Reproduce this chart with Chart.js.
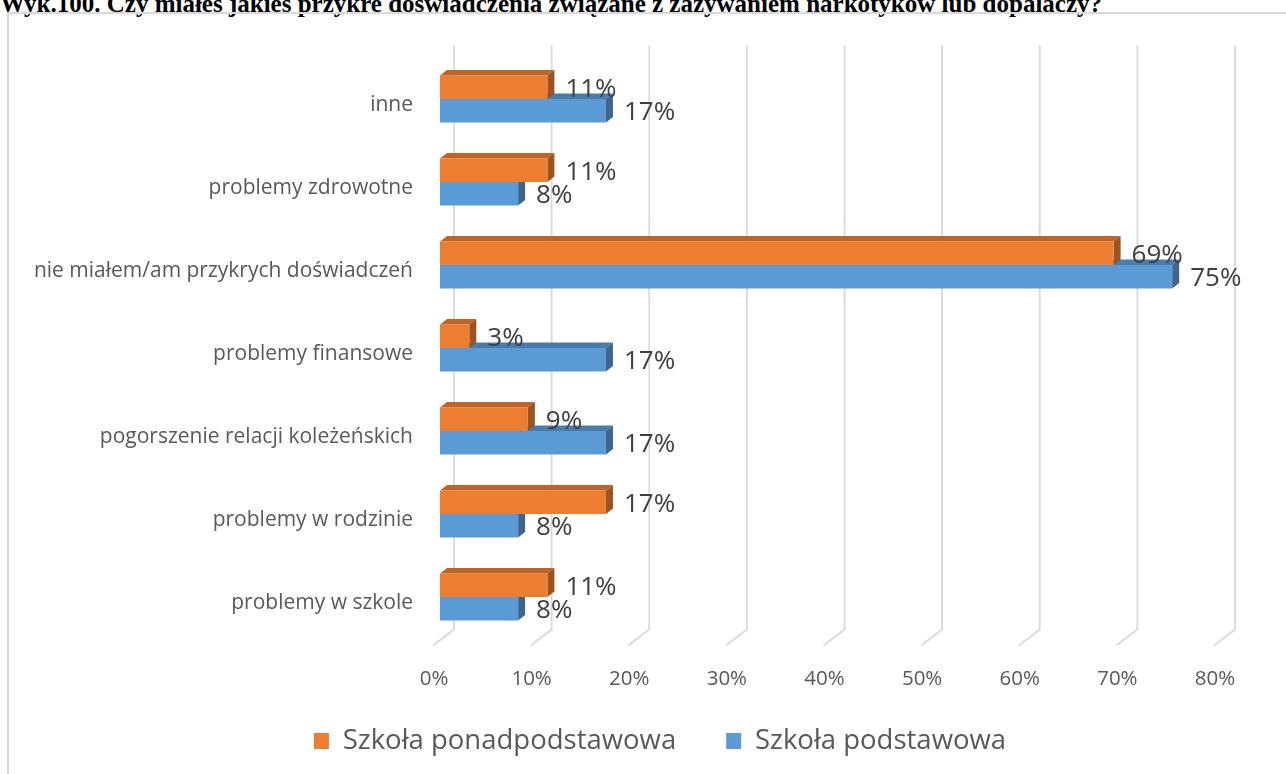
<!DOCTYPE html>
<html>
<head>
<meta charset="utf-8">
<script src="https://cdn.jsdelivr.net/npm/chart.js@4.4.0/dist/chart.umd.min.js"></script>
<style>
  html, body { margin: 0; padding: 0; background: #fff; overflow: hidden; }
  #title {
    position: absolute; left: 0; top: -10px; line-height: 24px;
    font: bold 25px "Liberation Serif", "Times New Roman", serif;
    white-space: nowrap; color: #000;
  }
  #frame {
    position: absolute; left: 7px; top: 12px; width: 1320px; height: 820px;
    border: 2px solid #d9d9d9; box-sizing: border-box;
  }
  #wrap { position: absolute; left: 0; top: 0; width: 1286px; height: 774px; }
</style>
</head>
<body>
<div id="title">Wyk.100. Czy miałeś jakieś przykre doświadczenia związane z zażywaniem narkotyków lub dopalaczy?</div>
<div id="frame"></div>
<div id="wrap"><canvas id="chart" width="1286" height="774"></canvas></div>
<script>
// dane z wykresu
const categories = [
    "inne",
    "problemy zdrowotne",
    "nie miałem/am przykrych doświadczeń",
    "problemy finansowe",
    "pogorszenie relacji koleżeńskich",
    "problemy w rodzinie",
    "problemy w szkole"
];
const seriesNames = ["Szkoła ponadpodstawowa", "Szkoła podstawowa"];
const ponadpodstawowa = [11, 11, 69, 3, 9, 17, 11];
const podstawowa = [17, 8, 75, 17, 17, 8, 8];
const xMax = 80;
const xStep = 10;

const colors = ['#ED7D31', '#5B9BD5'];

// przyciemnianie koloru dla ścian 3D
function shade(hex, f) {
    const n = parseInt(hex.slice(1), 16);
    const r = Math.round(((n >> 16) & 255) * f);
    const g = Math.round(((n >> 8) & 255) * f);
    const b = Math.round((n & 255) * f);
    return `rgb(${r},${g},${b})`;
}

// efekt 3D: podłoga, siatka, górne i boczne ściany słupków, etykiety
const barDX = 7, barDY = 5.5;
const bar3d = {
    id: 'bar3d',
    afterLayout(chart) {
        // legenda przesunięta tak jak w oryginale
        const l = chart.legend;
        l.left += 49.5; l.right += 49.5;
        l.top -= 9.25; l.bottom -= 9.25;
    },
    beforeDatasetsDraw(chart) {
        const { ctx, chartArea: a, scales: { x } } = chart;
        ctx.save();
        ctx.strokeStyle = '#d9d9d9';
        ctx.lineWidth = 1.8;
        for (let v = 0; v <= xMax; v += xStep) {
            const px = x.getPixelForValue(v);
            ctx.beginPath();
            ctx.moveTo(px + 14, a.top - 12);
            ctx.lineTo(px + 14, a.bottom - 9);
            ctx.lineTo(px - 7, a.bottom + 7);
            ctx.stroke();
        }
        for (let d = chart.data.datasets.length - 1; d >= 0; d--) {
            const meta = chart.getDatasetMeta(d);
            meta.data.forEach(bar => {
                const { x: x1, y, base, height } = bar.getProps(['x', 'y', 'base', 'height'], true);
                const top = y - height / 2, bottom = y + height / 2;
                ctx.fillStyle = shade(colors[d], 0.8);
                ctx.beginPath();
                ctx.moveTo(base, top);
                ctx.lineTo(x1, top);
                ctx.lineTo(x1 + barDX, top - barDY);
                ctx.lineTo(base + barDX, top - barDY);
                ctx.closePath();
                ctx.fill();
                ctx.fillStyle = shade(colors[d], 0.66);
                ctx.beginPath();
                ctx.moveTo(x1, top);
                ctx.lineTo(x1 + barDX, top - barDY);
                ctx.lineTo(x1 + barDX, bottom - barDY);
                ctx.lineTo(x1, bottom);
                ctx.closePath();
                ctx.fill();
            });
        }
        ctx.restore();
    },
    afterDatasetsDraw(chart) {
        const { ctx } = chart;
        ctx.save();
        ctx.font = '26px "Open Sans"';
        ctx.fillStyle = '#404040';
        ctx.textAlign = 'left';
        ctx.textBaseline = 'middle';
        chart.data.datasets.forEach((ds, d) => {
            chart.getDatasetMeta(d).data.forEach((bar, i) => {
                const { x, y } = bar.getProps(['x', 'y'], true);
                ctx.fillText(ds.data[i] + '%', x + 18, y + 2);
            });
        });
        ctx.restore();
    }
};

const chart = new Chart(document.getElementById('chart'), {
    type: 'bar',
    data: {
        labels: categories,
        datasets: [
            { label: seriesNames[0], data: ponadpodstawowa, backgroundColor: colors[0] },
            { label: seriesNames[1], data: podstawowa, backgroundColor: colors[1] }
        ]
    },
    options: {
        indexAxis: 'y',
        responsive: false,
        devicePixelRatio: 1,
        animation: false,
        categoryPercentage: 0.566,
        barPercentage: 1.0,
        layout: { padding: { left: 0, top: 57.5, right: 65, bottom: 0 } },
        plugins: {
            tooltip: { enabled: false },
            legend: {
                position: 'bottom',
                labels: {
                    boxWidth: 15,
                    boxHeight: 16,
                    padding: 50,
                    color: '#595959',
                    font: { family: 'Open Sans', size: 27.5 }
                }
            }
        },
        scales: {
            x: {
                min: 0,
                max: xMax,
                grid: { display: false, drawTicks: false },
                border: { display: false },
                afterFit: s => { s.height = 48; },
                ticks: {
                    stepSize: xStep,
                    padding: 28.5,
                    labelOffset: -6,
                    color: '#595959',
                    font: { family: 'Open Sans', size: 20.5 },
                    callback: v => v + '%'
                }
            },
            y: {
                grid: { display: false, drawTicks: false },
                border: { display: false },
                afterFit: s => { s.width = 440; },
                ticks: {
                    padding: 27,
                    labelOffset: 6,
                    color: '#595959',
                    font: { family: 'Open Sans', size: 21 }
                }
            }
        }
    },
    plugins: [bar3d]
});
</script>
</body>
</html>
